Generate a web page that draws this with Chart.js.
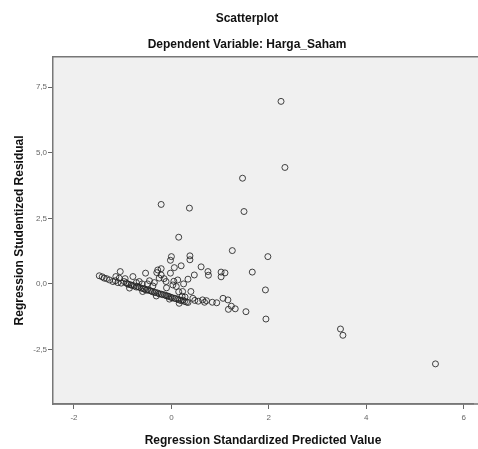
<!DOCTYPE html>
<html>
<head>
<meta charset="utf-8">
<script src="https://cdn.jsdelivr.net/npm/chart.js@4.4.1/dist/chart.umd.min.js"></script>
<style>
  html, body { margin: 0; padding: 0; background: #fff; overflow: hidden; }
  #wrap { width: 478px; height: 449px; }
</style>
</head>
<body>
<div id="wrap"><canvas id="grafico"></canvas></div>
<script>
// valores (x = predicted, y = studentized residual)
const predicted = [
  2.25, 2.33, 1.46, 1.49, 1.25, 1.98, 1.66, 1.93, 1.94, 1.53, 1.31, 1.23, 3.47, 3.52, 5.42,
  -0.21, 0.37, 0.15, 0.00, -0.02, 0.38, 0.38, -0.21, 0.06, 0.20, 0.61, -0.02, 0.34, 0.47, 0.75,
  0.76, 1.02, 1.10, 1.02, 0.40, 0.44, 0.28, 0.22, 0.64, 0.68, 0.93, 1.06, 1.16, 1.17,
  -0.53, -0.79, -1.05, -1.14, -1.48, -1.38, -0.30, -1.27, -1.20, -1.07, -1.03,
  -0.97, -0.90, -0.83, -0.76, -0.69, -0.62, -0.55, -0.49, -0.42, -0.35, -0.28, -0.21, -0.14,
  -0.08, -0.01, 0.06, 0.13, 0.20, 0.27, 0.34,
  -0.28, -0.21, -0.25, -0.11, 0.03, 0.10, 0.13, -0.49, -0.38, -0.66, 0.23,
  -0.86, -0.59, -0.31, -0.04, 0.16,
  -1.42, -1.33, -1.15, -1.10, -0.93, -0.87, -0.80, -0.72, -0.66, -0.58, -0.52, -0.45, -0.39,
  -0.32, -0.25, -0.18, -0.11, -0.05, 0.02, 0.09, 0.16, 0.24, 0.31, 0.48, 0.55, 0.72, 0.84,
  -0.95, -0.72, -0.60, -0.45, -0.35, -0.15, -0.10, 0.05, 0.25, 0.15
];
const residual = [
  6.96, 4.44, 4.03, 2.76, 1.27, 1.04, 0.45, -0.23, -1.34, -1.06, -0.95, -0.85, -1.72, -1.96, -3.05,
  3.03, 2.89, 1.78, 1.04, 0.90, 1.07, 0.92, 0.58, 0.62, 0.69, 0.65, 0.41, 0.18, 0.34, 0.47,
  0.33, 0.45, 0.42, 0.27, -0.29, -0.55, -0.50, -0.47, -0.61, -0.70, -0.72, -0.55, -0.61, -0.97,
  0.41, 0.28, 0.47, 0.28, 0.31, 0.22, 0.43, 0.15, 0.09, 0.22, 0.03,
  0.09, 0.00, -0.04, -0.08, -0.10, -0.16, -0.20, -0.23, -0.27, -0.32, -0.35, -0.39, -0.42,
  -0.46, -0.51, -0.55, -0.58, -0.64, -0.67, -0.71,
  0.53, 0.34, 0.22, 0.09, -0.04, -0.10, 0.15, 0.00, -0.08, 0.09, -0.29,
  -0.16, -0.29, -0.46, -0.58, -0.74,
  0.27, 0.20, 0.12, 0.05, 0.04, -0.02, -0.06, -0.12, -0.13, -0.18, -0.24, -0.25, -0.30,
  -0.33, -0.38, -0.41, -0.45, -0.48, -0.53, -0.56, -0.61, -0.62, -0.69, -0.63, -0.66, -0.64, -0.70,
  0.20, 0.05, 0.00, 0.12, 0.05, 0.20, -0.15, 0.10, 0.00, -0.30
];
const xTicks = [-2, 0, 2, 4, 6];
const yTicks = [-2.5, 0, 2.5, 5, 7.5];

const puntos = predicted.map((x, i) => ({ x: x, y: residual[i] }));

// fondo gris del area (llega hasta el borde derecho, como en la imagen recortada)
const fondoArea = {
  id: 'fondoArea',
  beforeDraw(chart) {
    const { ctx, chartArea: a } = chart;
    const derecha = chart.width;
    ctx.save();
    ctx.fillStyle = '#f0f0f0';
    ctx.fillRect(a.left, a.top, derecha - a.left, a.bottom - a.top);
    ctx.strokeStyle = '#777';
    ctx.lineWidth = 1.5;
    ctx.beginPath();
    ctx.moveTo(a.left, a.top);
    ctx.lineTo(derecha, a.top);
    ctx.moveTo(a.left, a.bottom);
    ctx.lineTo(derecha, a.bottom);
    ctx.stroke();
    ctx.restore();
  }
};

const fuenteTitulo = { family: 'Liberation Sans', size: 12, weight: 'bold' };
const fuenteTick = { family: 'Liberation Sans', size: 8 };

new Chart(document.getElementById('grafico'), {
  type: 'scatter',
  data: {
    datasets: [{
      data: puntos,
      pointRadius: 3,
      pointBorderWidth: 1,
      pointBorderColor: 'rgba(35,35,35,0.85)',
      pointBackgroundColor: 'rgba(0,0,0,0)'
    }]
  },
  options: {
    responsive: true,
    maintainAspectRatio: false,
    animation: false,
    events: [],
    layout: { padding: { left: 16, right: 0, top: 0, bottom: 0 } },
    plugins: {
      legend: { display: false },
      tooltip: { enabled: false },
      title: {
        display: true,
        text: 'Scatterplot',
        color: '#111',
        font: fuenteTitulo,
        padding: { top: 11, bottom: 0 }
      },
      subtitle: {
        display: true,
        text: 'Dependent Variable: Harga_Saham',
        color: '#111',
        font: fuenteTitulo,
        padding: { top: 12, bottom: 5 }
      }
    },
    scales: {
      x: {
        type: 'linear',
        min: -2.43,
        max: 6.19,
        afterBuildTicks: (s) => { s.ticks = xTicks.map(v => ({ value: v })); },
        afterFit: (s) => { s.height = 45; },
        grid: { drawOnChartArea: false, drawTicks: true, tickLength: 5, color: '#666' },
        border: { display: true, color: '#777', width: 1.5 },
        ticks: { color: '#666', font: fuenteTick, padding: 4, maxRotation: 0 },
        title: {
          display: true,
          text: 'Regression Standardized Predicted Value',
          color: '#111',
          font: fuenteTitulo,
          padding: { top: 0, bottom: 1 }
        }
      },
      y: {
        type: 'linear',
        min: -4.58,
        max: 8.66,
        afterBuildTicks: (s) => { s.ticks = yTicks.map(v => ({ value: v })); },
        afterFit: (s) => { s.width = 37; },
        grid: { drawOnChartArea: false, drawTicks: true, tickLength: 5, color: '#666' },
        border: { display: true, color: '#777', width: 1.5 },
        ticks: {
          color: '#666',
          font: fuenteTick,
          padding: 1,
          callback: function (value) {
            return value.toFixed(1).replace('.', ',');
          }
        },
        title: {
          display: true,
          text: 'Regression Studentized Residual',
          color: '#111',
          font: fuenteTitulo,
          padding: { top: -4, bottom: 0 }
        }
      }
    }
  },
  plugins: [fondoArea]
});
</script>
</body>
</html>
